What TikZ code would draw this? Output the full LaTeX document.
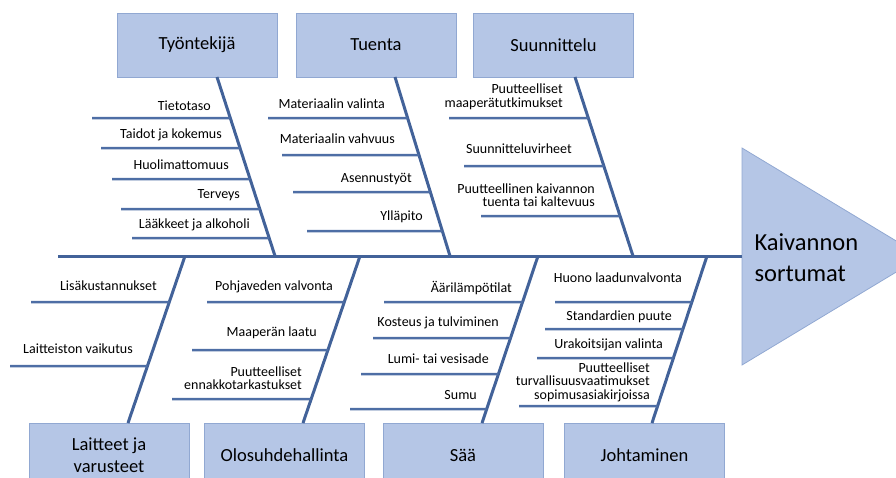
\documentclass[tikz,border=0pt]{standalone}
\usepackage{fontspec}
\setmainfont{Carlito}
\usetikzlibrary{calc, positioning}

\definecolor{boxfill}{RGB}{181,198,230}
\definecolor{boxline}{RGB}{145,168,210}
\definecolor{bonecol}{RGB}{66,98,153}
\definecolor{ribcol}{RGB}{78,110,165}

\tikzset{
  cause/.style={rectangle, fill=boxfill, draw=boxline, line width=0.8pt,
    minimum width=160pt, minimum height=64pt, align=center,
    font=\fontsize{18.5}{22}\selectfont},
  bone/.style={draw=bonecol, line width=3pt},
  rib/.style={draw=ribcol, line width=2.5pt},
  lbl/.style={anchor=east, align=right, inner sep=0pt,
    font=\fontsize{14}{13.5}\selectfont}
}

\begin{document}
\begin{tikzpicture}[x=1pt, y=-1pt]
  \useasboundingbox (0,0) rectangle (896,477);
  \clip (0,0) rectangle (896,477);

  % head of the fish
  \filldraw[fill=boxfill, draw=boxline, line width=0.8pt]
    (742,148) -- (922,256.5) -- (742,365) -- cycle;
  \node[anchor=west, align=left, font=\fontsize{24.5}{31}\selectfont] (effect)
    at (751,258) {Kaivannon\\sortumat};

  % spine
  \coordinate (spine-l) at (58,256);
  \coordinate (spine-r) at (742,256);
  \draw[bone] (spine-l) -- (spine-r);

  % cause boxes
  \node[cause] (tyo) at (197,45) {Työntekijä};
  \node[cause] (tue) at (376,45) {Tuenta};
  \node[cause] (suu) at (553.5,45) {Suunnittelu};
  \node[cause] (lai) at (109,455) {Laitteet ja\\varusteet};
  \node[cause] (olo) at (284.5,455) {Olosuhdehallinta};
  \node[cause] (saa) at (463,455) {Sää};
  \node[cause] (joh) at (644.5,455) {Johtaminen};

  % bones
  \coordinate (tyo-s) at (217,77);   \coordinate (tyo-e) at (275,256);
  \coordinate (tue-s) at (395,77);   \coordinate (tue-e) at (450,256);
  \coordinate (suu-s) at (575,77);   \coordinate (suu-e) at (633,256);
  \coordinate (lai-s) at (185,256);  \coordinate (lai-e) at (128,423);
  \coordinate (olo-s) at (360,256);  \coordinate (olo-e) at (303,423);
  \coordinate (saa-s) at (538,256);  \coordinate (saa-e) at (482,423);
  \coordinate (joh-s) at (707,256);  \coordinate (joh-e) at (652,423);
  \foreach \b in {tyo,tue,suu,lai,olo,saa,joh}
    \draw[bone] (\b-s) -- (\b-e);

  % upper ribs: y / left x / label x / label y / text
  \foreach \b/\list in {
    tyo/{118/92/211/106/Tietotaso, 148/101/222/135/Taidot ja kokemus,
         179/112/229/165/Huolimattomuus, 209/121/240/195/Terveys,
         238/132/250/225/Lääkkeet ja alkoholi},
    tue/{118/268/385/104/Materiaalin valinta, 155/282/395/139/Materiaalin vahvuus,
         192/293/412/179/Asennustyöt, 231/307/423/217/Ylläpito},
    suu/{118/449/563/97/{Puutteelliset\\maaperätutkimukset},
         166/464/572/149/Suunnitteluvirheet,
         216/481/595/195/{Puutteellinen kaivannon\\tuenta tai kaltevuus}}}
    \foreach \yy/\xx/\lx/\ly/\txt [count=\i] in \list {
      \coordinate (\b-r\i) at (\xx,\yy);
      \draw[rib] (\b-r\i) -- ($(\b-s)!{(\yy-77)/179}!(\b-e)$);
      \node[lbl] (\b-t\i) at (\lx,\ly) {\txt};
    }

  % lower ribs
  \foreach \b/\list in {
    lai/{302/31/157/286/Lisäkustannukset, 366/10/133/349/Laitteiston vaikutus},
    olo/{302/207/333/287/Pohjaveden valvonta, 350/192/317/333/Maaperän laatu,
         399/172/302/378/{Puutteelliset\\ennakkotarkastukset}},
    saa/{302/384/512/288/Äärilämpötilat, 338/373/499/323/Kosteus ja tulviminen,
         374/361/489/359/Lumi- tai vesisade, 409/350/477/395/Sumu},
    joh/{302/555/682/278/Huono laadunvalvonta, 329/545/672/317/Standardien puute,
         358/537/663/345/Urakoitsijan valinta,
         406/519/650/382/{Puutteelliset\\turvallisuusvaatimukset\\sopimusasiakirjoissa}}}
    \foreach \yy/\xx/\lx/\ly/\txt [count=\i] in \list {
      \coordinate (\b-r\i) at (\xx,\yy);
      \draw[rib] (\b-r\i) -- ($(\b-s)!{(\yy-256)/167}!(\b-e)$);
      \node[lbl] (\b-t\i) at (\lx,\ly) {\txt};
    }
\end{tikzpicture}
\end{document}
